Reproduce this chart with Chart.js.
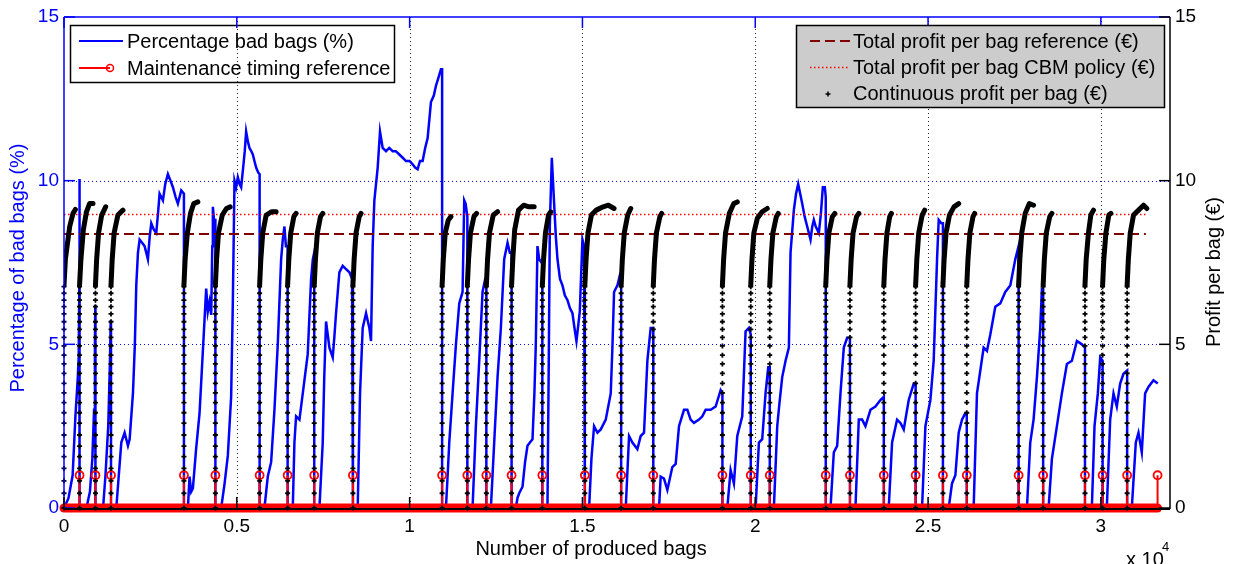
<!DOCTYPE html>
<html>
<head>
<meta charset="utf-8">
<title>Percentage bad bags and profit per bag</title>
<script src="https://cdn.jsdelivr.net/npm/chart.js@4.4.1/dist/chart.umd.min.js"></script>
<style>
  html, body { margin: 0; padding: 0; background: #ffffff; }
  #wrap { width: 1241px; height: 564px; }
</style>
</head>
<body>
<div id="wrap"><canvas id="c" width="1241" height="564"></canvas></div>
<script>
// ---- axis ticks ----
const xTicks = [0, 5000, 10000, 15000, 20000, 25000, 30000];
const yTicks = [0, 5, 10, 15];

// ---- maintenance moments (number of produced bags) ----
const maintenanceBags = [450, 910, 1360, 3470, 4380, 5660, 6470, 7240, 8360, 10940, 11670, 12220,
  12950, 13840, 15070, 16120, 17050, 19050, 19870, 20420, 22040, 22740, 23720, 24640, 25430,
  26120, 27620, 28330, 29540, 30050, 30760, 31640];
const maintenanceLevel = 1;

// ---- percentage of bad bags, one run between two maintenances per row [bags, %] ----
const badBagSegments = [
  [[0,0],[130,0.3],[250,1.0],[330,2.8],[400,4.0],[425,4.6],[445,7.0],[450,10.05]],
  [[450,0],[650,0],[750,0.5],[820,1.5],[870,3.0],[895,5.0],[905,6.2],[910,6.2]],
  [[910,0],[1130,0],[1200,1.0],[1280,2.5],[1330,4.5],[1350,5.7],[1360,5.7]],
  [[1360,0],[1513,0],[1600,1.2],[1658,2.0],[1754,2.3],[1850,1.9],[1899,2.1],[1995,3.5],[2050,5.0],[2091,6.8],[2140,7.8],[2188,8.2],[2260,8.1],[2332,8.0],[2428,7.6],[2480,8.3],[2525,8.7],[2600,8.5],[2669,8.4],[2720,9.0],[2766,9.6],[2862,9.4],[2930,9.9],[3006,10.2],[3080,10.0],[3151,9.8],[3230,9.5],[3295,9.3],[3392,9.7],[3470,9.6]],
  [[3470,0],[3585,0],[3632,0.96],[3680,0.5],[3729,0.6],[3822,1.8],[3922,2.9],[4018,4.8],[4114,6.7],[4160,6.0],[4210,6.3],[4259,5.9],[4290,8.0],[4307,9.2],[4340,8.8],[4380,8.8]],
  [[4380,0],[4548,0],[4644,0.73],[4740,1.6],[4836,3.4],[4885,6.3],[4933,10.0],[4980,9.8],[5029,10.1],[5080,9.9],[5126,9.8],[5174,10.3],[5230,10.9],[5270,11.5],[5320,11.2],[5366,11.0],[5420,10.9],[5463,10.8],[5510,10.6],[5559,10.4],[5620,10.25],[5660,10.2]],
  [[5660,0],[5800,0],[5896,0.96],[5993,1.4],[6089,3.0],[6185,5.0],[6282,7.6],[6330,8.2],[6378,8.6],[6420,8.0],[6470,8.0]],
  [[6470,0],[6619,0],[6667,2.0],[6715,2.8],[6812,2.7],[6956,3.9],[7052,4.7],[7149,7.0],[7200,7.6],[7240,7.8]],
  [[7240,0],[7390,0],[7486,2.0],[7530,4.0],[7582,5.7],[7630,5.3],[7679,4.9],[7775,4.6],[7820,5.2],[7871,5.95],[7967,7.2],[8064,7.4],[8160,7.3],[8258,7.2],[8334,7.0],[8360,7.0]],
  [[8360,0],[8498,0],[8565,3.5],[8642,5.5],[8739,5.95],[8835,5.5],[8883,5.1],[8931,8.0],[8980,9.4],[9076,10.4],[9143,11.5],[9220,11.0],[9317,10.9],[9410,11.0],[9509,10.9],[9600,10.9],[9702,10.8],[9800,10.7],[9895,10.6],[10000,10.6],[10087,10.5],[10160,10.4],[10232,10.35],[10300,10.6],[10376,10.6],[10450,11.0],[10521,11.3],[10617,12.4],[10700,12.6],[10762,12.9],[10850,13.2],[10906,13.4],[10940,13.4]],
  [[10940,0],[11050,0],[11100,1.0],[11147,2.0],[11243,3.5],[11340,5.0],[11436,6.25],[11532,6.6],[11580,9.4],[11620,9.3],[11670,8.9]],
  [[11670,0],[11821,0],[11917,2.5],[12014,4.5],[12110,6.6],[12187,7.0],[12220,7.0]],
  [[12220,0],[12351,0],[12447,2.0],[12544,4.0],[12640,5.5],[12736,7.6],[12833,8.1],[12900,7.8],[12950,7.8]],
  [[12950,0],[13073,0],[13120,0.3],[13170,0.45],[13266,0.65],[13340,1.4],[13410,1.9],[13480,2.0],[13555,2.1],[13610,3.5],[13651,5.0],[13699,8.0],[13748,7.6],[13815,7.5],[13840,7.5]],
  [[13840,0],[13988,0],[14030,5.0],[14056,8.6],[14114,10.7],[14181,9.3],[14230,8.3],[14278,7.6],[14350,7.0],[14422,6.8],[14490,6.5],[14567,6.35],[14640,6.1],[14711,5.95],[14770,5.5],[14827,5.1],[14923,6.0],[15000,8.2],[15048,8.0],[15070,8.0]],
  [[15070,0],[15193,0],[15260,1.5],[15337,2.5],[15434,2.3],[15530,2.4],[15674,2.7],[15819,3.5],[15870,5.0],[15915,6.6],[16012,6.8],[16079,7.1],[16120,7.0]],
  [[16120,0],[16253,0],[16349,2.2],[16445,2.0],[16590,1.8],[16686,2.2],[16782,2.3],[16879,4.5],[16975,5.5],[17050,5.5]],
  [[17050,0],[17216,0],[17264,0.96],[17360,0.9],[17457,0.55],[17601,1.25],[17698,1.35],[17794,2.5],[17938,3.0],[18035,3.0],[18130,2.7],[18227,2.6],[18372,2.7],[18470,2.8],[18565,3.0],[18709,3.0],[18854,3.1],[18998,3.6],[19050,3.5]],
  [[19050,0],[19191,0],[19287,1.16],[19383,0.75],[19480,2.2],[19624,2.8],[19720,5.4],[19817,5.5],[19870,5.3]],
  [[19870,0],[20010,0],[20106,2.0],[20202,2.1],[20298,3.5],[20376,4.3],[20420,4.3]],
  [[20420,0],[20539,0],[20636,2.5],[20700,3.2],[20780,4.0],[20877,4.5],[20973,4.9],[21021,7.8],[21117,9.1],[21180,9.6],[21242,9.9],[21300,9.6],[21358,9.3],[21430,8.9],[21503,8.6],[21599,8.2],[21650,8.6],[21695,8.8],[21750,8.6],[21840,8.4],[21900,9.0],[21955,9.8],[22013,9.8],[22040,9.5]],
  [[22040,0],[22177,0],[22273,1.7],[22370,1.9],[22466,3.5],[22562,4.9],[22659,5.2],[22740,5.2]],
  [[22740,0],[22899,0],[22996,2.7],[23092,2.7],[23188,2.5],[23333,3.0],[23477,3.1],[23622,3.3],[23720,3.4]],
  [[23720,0],[23862,0],[23959,2.0],[24103,2.7],[24200,2.6],[24296,2.4],[24441,3.3],[24585,3.8],[24640,3.8]],
  [[24640,0],[24826,0],[24923,2.5],[25067,3.3],[25163,4.5],[25260,7.6],[25308,8.8],[25385,8.7],[25430,8.7]],
  [[25430,0],[25597,0],[25693,0.75],[25790,1.0],[25886,2.3],[25982,2.7],[26079,2.9],[26120,2.9]],
  [[26120,0],[26319,0],[26415,3.5],[26512,4.2],[26608,4.9],[26704,4.8],[26801,5.3],[26945,6.15],[27090,6.25],[27234,6.6],[27379,6.8],[27524,7.6],[27620,8.0]],
  [[27620,0],[27861,0],[27957,2.0],[28053,2.7],[28150,4.0],[28246,5.5],[28294,6.7],[28330,6.7]],
  [[28330,0],[28487,0],[28583,1.5],[28728,2.5],[28872,3.5],[29017,4.4],[29161,4.5],[29306,5.1],[29450,5.0],[29540,4.9]],
  [[29540,0],[29739,0],[29816,2.5],[29912,3.5],[29980,4.6],[30050,4.5]],
  [[30050,0],[30172,0],[30269,2.7],[30365,3.5],[30461,3.1],[30558,3.8],[30654,4.1],[30760,4.2]],
  [[30760,0],[30895,0],[31011,2.0],[31088,2.3],[31184,1.7],[31280,3.5],[31377,3.7],[31521,3.9],[31646,3.8]]
];

// ---- continuous profit per bag (EUR) ----
// each run restarts at a maintenance; the first bags are plotted as separate dots
const profitStarts = [0, 450, 910, 1360, 3470, 4380, 5660, 6470, 7240, 8360, 10940, 11670, 12220,
  12950, 13840, 15070, 16120, 17050, 19050, 19870, 20420, 22040, 22740, 23720, 24640, 25430,
  26120, 27620, 28330, 29540, 30050, 30760];
const profitRiseLevels = [0, 0.45, 0.83, 1.21, 1.57, 1.89, 2.23, 2.59, 2.91, 3.22, 3.52, 3.81,
  4.11, 4.40, 4.67, 4.95, 5.21, 5.46, 5.69, 5.93, 6.15, 6.35, 6.56, 6.76];
// dense part of every run, where the dots merge into a solid trace [bags, EUR]
const profitCurves = [
  [[0,6.8],[40,7.6],[165,8.6],[261,9.0],[329,9.12]],
  [[450,6.8],[490,7.6],[560,8.5],[650,9.05],[740,9.3],[839,9.3]],
  [[910,6.8],[945,7.6],[1000,8.4],[1090,8.95],[1205,9.2]],
  [[1360,6.8],[1395,7.6],[1450,8.4],[1560,8.95],[1706,9.1]],
  [[3470,6.8],[3505,7.6],[3568,8.4],[3660,9.0],[3755,9.3],[3873,9.35]],
  [[4380,6.8],[4415,7.6],[4470,8.4],[4580,8.95],[4700,9.15],[4808,9.2]],
  [[5660,6.8],[5695,7.6],[5750,8.4],[5850,8.95],[6000,9.05],[6137,9.05]],
  [[6470,6.8],[6505,7.6],[6560,8.4],[6650,8.9],[6715,9.0]],
  [[7240,6.8],[7275,7.6],[7330,8.4],[7420,8.9],[7486,9.0]],
  [[8360,6.8],[8395,7.6],[8450,8.4],[8540,8.9],[8594,9.0]],
  [[10940,6.8],[10975,7.6],[11030,8.4],[11120,8.8],[11195,8.9]],
  [[11670,6.8],[11705,7.6],[11760,8.4],[11860,8.9],[11937,9.0]],
  [[12220,6.8],[12255,7.6],[12310,8.4],[12420,8.95],[12544,9.05]],
  [[12950,6.8],[12985,7.6],[13040,8.5],[13150,9.1],[13300,9.25],[13450,9.2],[13603,9.2]],
  [[13840,6.8],[13875,7.6],[13930,8.4],[14020,8.95],[14085,9.05]],
  [[15070,6.8],[15105,7.6],[15160,8.4],[15260,8.95],[15400,9.1],[15600,9.2],[15750,9.25],[15915,9.15]],
  [[16120,6.8],[16155,7.6],[16210,8.4],[16310,8.95],[16397,9.15]],
  [[17050,6.8],[17085,7.6],[17140,8.4],[17240,8.9],[17293,9.0]],
  [[19050,6.8],[19085,7.6],[19140,8.4],[19250,9.0],[19380,9.3],[19480,9.35]],
  [[19870,6.8],[19905,7.6],[19960,8.4],[20060,8.85],[20200,9.05],[20347,9.15]],
  [[20420,6.8],[20455,7.6],[20510,8.4],[20610,8.9],[20665,9.0]],
  [[22040,6.8],[22075,7.6],[22130,8.4],[22230,8.9],[22302,9.0]],
  [[22740,6.8],[22775,7.6],[22830,8.4],[22930,8.9],[22996,9.0]],
  [[23720,6.8],[23755,7.6],[23810,8.4],[23890,8.9],[23939,9.0]],
  [[24640,6.8],[24675,7.6],[24730,8.4],[24830,8.95],[24903,9.1]],
  [[25430,6.8],[25465,7.6],[25520,8.4],[25620,8.95],[25750,9.2],[25886,9.3]],
  [[26120,6.8],[26155,7.6],[26210,8.4],[26300,8.9],[26348,9.0]],
  [[27620,6.8],[27655,7.6],[27710,8.4],[27810,9.0],[27930,9.3],[28053,9.25]],
  [[28330,6.8],[28365,7.6],[28420,8.4],[28520,8.9],[28583,9.0]],
  [[29540,6.8],[29575,7.6],[29640,8.4],[29710,8.95],[29787,9.1]],
  [[30050,6.8],[30085,7.6],[30145,8.4],[30230,8.95],[30288,9.0]],
  [[30760,6.8],[30795,7.6],[30850,8.4],[30945,8.95],[31090,9.1],[31235,9.25],[31330,9.15]]
];

// ---- total profit per bag (EUR) ----
const referenceProfit = 8.37;
const cbmProfit = 8.97;
const totalProfitEnd = 31300;

// ---- look ----
const FONT = '"Liberation Sans", Arial, Helvetica, sans-serif';
const BLUE = 'rgb(0,0,255)';
const RED = 'rgb(255,0,0)';
const DARK_RED = 'rgb(128,0,0)';
const pt = ([x, y]) => ({ x, y });

const badBagData = badBagSegments.flat().map(pt);
const stemData = maintenanceBags.flatMap(x => [{ x, y: 0 }, { x, y: maintenanceLevel }, { x, y: null }]);
const stemBase = [{ x: 0, y: 0 }, { x: maintenanceBags[maintenanceBags.length - 1], y: 0 }];
const dotData = profitStarts.flatMap(x => profitRiseLevels.map(y => ({ x, y })));
const curveData = profitCurves.flatMap(c => [...c.map(pt), { x: c[c.length - 1][0], y: null }]);

function strokeLine(ctx, x1, y1, x2, y2) {
  ctx.beginPath(); ctx.moveTo(x1, y1); ctx.lineTo(x2, y2); ctx.stroke();
}

function drawCross(ctx, x, y, r) {
  ctx.beginPath();
  ctx.moveTo(x - r, y); ctx.lineTo(x + r, y);
  ctx.moveTo(x, y - r); ctx.lineTo(x, y + r);
  ctx.stroke();
}

const frame = {
  id: 'frame',
  beforeDatasetsDraw(chart) {
    const { ctx, chartArea: a, scales } = chart;
    const x = scales.x, y = scales.y;
    ctx.save();

    // left legend box
    ctx.fillStyle = '#ffffff';
    ctx.fillRect(70, 25, 325, 58);
    ctx.lineWidth = 1.5; ctx.strokeStyle = '#000'; ctx.setLineDash([]);
    ctx.strokeRect(70.5, 25.5, 324, 57);
    ctx.lineWidth = 2;
    ctx.strokeStyle = BLUE; strokeLine(ctx, 79, 41, 123, 41);
    ctx.strokeStyle = RED; strokeLine(ctx, 79, 68, 110, 68);
    ctx.lineWidth = 1.5;
    ctx.beginPath(); ctx.arc(110, 68, 3.5, 0, Math.PI * 2); ctx.stroke();
    ctx.fillStyle = '#000';
    ctx.font = '20px ' + FONT;
    ctx.textAlign = 'left'; ctx.textBaseline = 'middle';
    ctx.fillText('Percentage bad bags (%)', 127, 42);
    ctx.fillText('Maintenance timing reference', 127, 69);

    // grid
    ctx.lineWidth = 1;
    ctx.setLineDash([1, 3]);
    ctx.strokeStyle = 'rgba(0,0,0,0.85)';
    xTicks.slice(1).forEach(v => {
      const px = Math.round(x.getPixelForValue(v)) + 0.5;
      strokeLine(ctx, px, a.top, px, a.bottom);
    });
    ctx.strokeStyle = BLUE;
    yTicks.slice(1, -1).forEach(v => {
      const py = Math.round(y.getPixelForValue(v)) + 0.5;
      strokeLine(ctx, a.left, py, a.right, py);
    });
    ctx.restore();
  },
  afterDatasetsDraw(chart) {
    const { ctx, chartArea: a, scales } = chart;
    const x = scales.x, y = scales.y, y2 = scales.y2;
    const TL = 11;
    ctx.save();
    ctx.setLineDash([]);

    // axes of the bad-bag percentage (blue)
    ctx.strokeStyle = BLUE; ctx.lineWidth = 1.5;
    strokeLine(ctx, a.left, a.top, a.right, a.top);
    strokeLine(ctx, a.left, a.top, a.left, a.bottom);
    yTicks.forEach(v => { const py = y.getPixelForValue(v); strokeLine(ctx, a.left, py, a.left + TL, py); });
    xTicks.forEach(v => { const px = x.getPixelForValue(v); strokeLine(ctx, px, a.top, px, a.top + TL); });

    // axes of the profit (black)
    ctx.strokeStyle = '#000'; ctx.lineWidth = 2;
    strokeLine(ctx, a.left, a.bottom + 1, a.right, a.bottom + 1);
    ctx.lineWidth = 1.5;
    strokeLine(ctx, a.right, a.top, a.right, a.bottom + 1);
    yTicks.forEach(v => { const py = y2.getPixelForValue(v); strokeLine(ctx, a.right - TL, py, a.right, py); });
    xTicks.forEach(v => { const px = x.getPixelForValue(v); strokeLine(ctx, px, a.bottom, px, a.bottom - TL); });

    // axis titles
    ctx.font = '20px ' + FONT;
    ctx.textAlign = 'center'; ctx.textBaseline = 'middle';
    ctx.fillStyle = '#000';
    ctx.fillText('Number of produced bags', 591, 549);
    ctx.save(); ctx.translate(18, 268); ctx.rotate(-Math.PI / 2);
    ctx.fillStyle = BLUE; ctx.fillText('Percentage of bad bags (%)', 0, 0); ctx.restore();
    ctx.save(); ctx.translate(1214, 272); ctx.rotate(-Math.PI / 2);
    ctx.fillStyle = '#000'; ctx.fillText('Profit per bag (\u20ac)', 0, 0); ctx.restore();

    // exponent of the x axis
    ctx.textAlign = 'left'; ctx.textBaseline = 'alphabetic';
    ctx.font = '20px ' + FONT;
    ctx.fillText('x 10', 1126, 566);
    ctx.font = '13px ' + FONT;
    ctx.fillText('4', 1162, 551);

    // right legend box
    ctx.fillStyle = '#cccccc';
    ctx.fillRect(796, 25, 369, 83);
    ctx.strokeStyle = '#000'; ctx.lineWidth = 1.5;
    ctx.strokeRect(796.5, 25.5, 368, 82);
    ctx.lineWidth = 2; ctx.strokeStyle = DARK_RED; ctx.setLineDash([10, 5]);
    strokeLine(ctx, 810, 41, 850, 41);
    ctx.lineWidth = 1.5; ctx.strokeStyle = RED; ctx.setLineDash([1.5, 2.5]);
    strokeLine(ctx, 810, 67.5, 850, 67.5);
    ctx.setLineDash([]);
    ctx.strokeStyle = '#000'; ctx.lineWidth = 1.5;
    drawCross(ctx, 828, 94, 2.5);
    ctx.fillStyle = '#000';
    ctx.font = '20px ' + FONT;
    ctx.textBaseline = 'middle';
    ctx.fillText('Total profit per bag reference (\u20ac)', 853, 42);
    ctx.fillText('Total profit per bag CBM policy (\u20ac)', 853, 68);
    ctx.fillText('Continuous profit per bag (\u20ac)', 853, 94);
    ctx.restore();
  }
};

const tickFont = { family: FONT, size: 19 };

new Chart(document.getElementById('c'), {
  type: 'scatter',
  data: {
    datasets: [
      { label: 'Continuous profit per bag (\u20ac)', data: curveData, yAxisID: 'y2', showLine: true,
        borderColor: '#000', borderWidth: 5, pointRadius: 0, spanGaps: false, order: 0,
        borderJoinStyle: 'round', borderCapStyle: 'round' },
      { label: 'Continuous profit per bag (\u20ac) dots', data: dotData, yAxisID: 'y2', showLine: false,
        pointStyle: 'cross', pointRadius: 2.5, pointBorderWidth: 1.8, pointBorderColor: '#000',
        pointBackgroundColor: '#000', order: 1, clip: false },
      { label: 'Total profit per bag CBM policy (\u20ac)', data: [{ x: 0, y: cbmProfit }, { x: totalProfitEnd, y: cbmProfit }],
        yAxisID: 'y2', showLine: true, borderColor: RED, borderWidth: 1.5, borderDash: [1.5, 2.5],
        pointRadius: 0, order: 2 },
      { label: 'Total profit per bag reference (\u20ac)', data: [{ x: 0, y: referenceProfit }, { x: totalProfitEnd, y: referenceProfit }],
        yAxisID: 'y2', showLine: true, borderColor: DARK_RED, borderWidth: 2, borderDash: [10, 5],
        pointRadius: 0, order: 3 },
      { label: 'Maintenance baseline', data: stemBase, yAxisID: 'y', showLine: true,
        borderColor: RED, borderWidth: 9, borderCapStyle: 'round', pointRadius: 0, order: 4, clip: false },
      { label: 'Maintenance timing reference', data: stemData, yAxisID: 'y', showLine: true, spanGaps: false,
        borderColor: RED, borderWidth: 2, pointStyle: 'circle',
        pointRadius: c => (c.raw && c.raw.y === maintenanceLevel ? 4 : 0),
        pointBorderColor: RED, pointBorderWidth: 1.8, pointBackgroundColor: 'rgba(255,255,255,0)',
        order: 5, clip: false },
      { label: 'Percentage bad bags (%)', data: badBagData, yAxisID: 'y', showLine: true,
        borderColor: BLUE, borderWidth: 2.5, pointRadius: 0, order: 6, borderJoinStyle: 'miter' }
    ]
  },
  options: {
    responsive: false,
    animation: false,
    devicePixelRatio: 1,
    events: [],
    layout: { padding: { top: 17, left: 0, right: 0, bottom: 0 } },
    plugins: { legend: { display: false }, tooltip: { enabled: false } },
    scales: {
      x: {
        type: 'linear', min: 0, max: 32000,
        afterBuildTicks: s => { s.ticks = xTicks.map(v => ({ value: v })); },
        afterFit: s => { s.height = 56; },
        grid: { display: false, drawTicks: false }, border: { display: false },
        ticks: { color: '#000', font: tickFont, padding: 7, maxRotation: 0, autoSkip: false,
          callback: v => String(v / 10000) }
      },
      y: {
        type: 'linear', position: 'left', min: 0, max: 15,
        afterBuildTicks: s => { s.ticks = yTicks.map(v => ({ value: v })); },
        afterFit: s => { s.width = 64; },
        grid: { display: false, drawTicks: false }, border: { display: false },
        ticks: { color: BLUE, font: tickFont, padding: 5 }
      },
      y2: {
        type: 'linear', position: 'right', min: 0, max: 15,
        afterBuildTicks: s => { s.ticks = yTicks.map(v => ({ value: v })); },
        afterFit: s => { s.width = 71; },
        grid: { display: false, drawTicks: false }, border: { display: false },
        ticks: { color: '#000', font: tickFont, padding: 5 }
      }
    }
  },
  plugins: [frame]
});
</script>
</body>
</html>
